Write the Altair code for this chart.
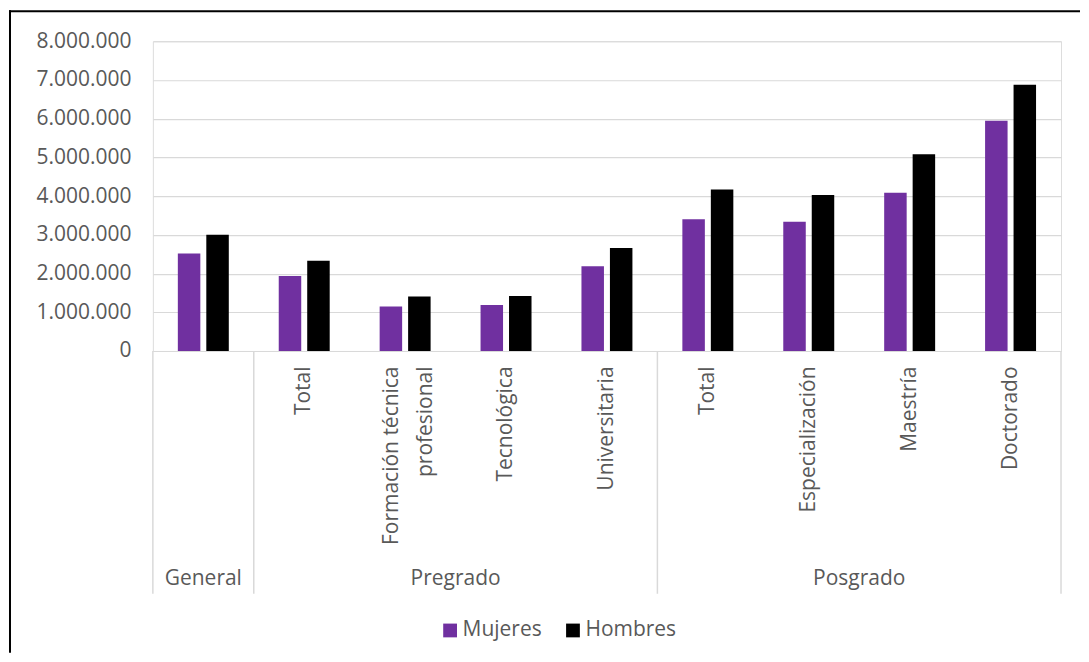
import altair as alt
import pandas as pd

# ---- data ----
groups = ["General", "Pregrado", "Pregrado", "Pregrado", "Pregrado",
          "Posgrado", "Posgrado", "Posgrado", "Posgrado"]
levels = ["", "Total", "Formación técnica;profesional", "Tecnológica", "Universitaria",
          "Total", "Especialización", "Maestría", "Doctorado"]
mujeres = [2520000, 1940000, 1150000, 1190000, 2190000, 3400000, 3340000, 4090000, 5950000]
hombres = [3000000, 2330000, 1410000, 1420000, 2660000, 4170000, 4030000, 5080000, 6880000]
series = ["Mujeres", "Hombres"]
colors = ["#7030a0", "#000000"]
y_ticks = [0, 1000000, 2000000, 3000000, 4000000, 5000000, 6000000, 7000000, 8000000]

group_names = ["General", "Pregrado", "Posgrado"]
group_anchor = ["General|", "Pregrado|Tecnológica", "Posgrado|Maestría"]
group_band = [0.5, 0.0, 0.0]
sep_keys = ["General|", "Pregrado|Total", "Posgrado|Total"]
end_key = ["Posgrado|Doctorado"]

keys = [f"{g}|{l}" for g, l in zip(groups, levels)]
rows = []
for k, m, h in zip(keys, mujeres, hombres):
    rows.append({"key": k, "Sexo": "Mujeres", "valor": m})
    rows.append({"key": k, "Sexo": "Hombres", "valor": h})
df = pd.DataFrame(rows)

grp_df = pd.DataFrame({"grupo": group_names, "key": group_anchor, "bp": group_band})
sep_df = pd.DataFrame({"key": sep_keys})
end_df = pd.DataFrame({"key": end_key})

FONT = "Open Sans"
FS = 21
GRAY = "#595959"
LIGHT = "#d9d9d9"
W, H = 909, 310

x_axis = alt.Axis(
    labelExpr="split(split(datum.value, '|')[1], ';')",
    labelAngle=-90, labelAlign="right", labelBaseline="middle",
    labelPadding=15, labelFontSize=FS, labelFont=FONT, labelColor=GRAY,
    labelLineHeight=34, labelLimit=400, labelOverlap=False,
    labelOffset={"condition": {"test": "indexof(datum.value, ';') >= 0", "value": -13}, "value": 0},
    ticks=False, domain=True, domainColor=LIGHT, domainWidth=1.2, grid=False, title=None,
)
x_scale = alt.Scale(domain=keys, paddingInner=0, paddingOuter=0)


def make_x(bp=None):
    if bp is None:
        return alt.X("key:N", scale=x_scale, axis=x_axis, title=None)
    return alt.X("key:N", scale=x_scale, axis=x_axis, title=None, bandPosition=bp)


bars = alt.Chart(df).mark_bar().encode(
    x=make_x(),
    xOffset=alt.XOffset("Sexo:N", scale=alt.Scale(domain=series, paddingInner=0.21, paddingOuter=0.877)),
    y=alt.Y("valor:Q", scale=alt.Scale(domain=[0, 8000000]),
            axis=alt.Axis(values=y_ticks,
                          labelExpr="replace(format(datum.value, ','), regexp(',', 'g'), '.')",
                          grid=True, gridColor=LIGHT, gridWidth=1.2, domain=False, ticks=False,
                          tickSize=0, labelPadding=22, labelFontSize=FS, labelFont=FONT,
                          labelColor=GRAY, title=None)),
    color=alt.Color("Sexo:N", scale=alt.Scale(domain=series, range=colors),
                    legend=alt.Legend(orient="none", legendX=287, legendY=579, direction="horizontal",
                                      title=None, symbolType="square", symbolSize=190,
                                      symbolStrokeWidth=0, labelFontSize=FS, labelFont=FONT,
                                      labelColor=GRAY, labelOffset=2, columnPadding=20, padding=0)),
)

seps = alt.Chart(sep_df).mark_rule(color=LIGHT, strokeWidth=1.5).encode(
    x=make_x(0), y=alt.value(H), y2=alt.value(H + 243)
)
seps_end = alt.Chart(end_df).mark_rule(color=LIGHT, strokeWidth=1.5).encode(
    x=make_x(1), y=alt.value(H), y2=alt.value(H + 243)
)

lbl_general = alt.Chart(grp_df).transform_filter(alt.datum.bp == 0.5).mark_text(
    font=FONT, fontSize=FS, color=GRAY, align="center", baseline="middle"
).encode(x=make_x(0.5), y=alt.value(H + 228), text="grupo:N")
lbl_groups = alt.Chart(grp_df).transform_filter(alt.datum.bp == 0).mark_text(
    font=FONT, fontSize=FS, color=GRAY, align="center", baseline="middle"
).encode(x=make_x(0), y=alt.value(H + 228), text="grupo:N")

one = alt.Data(values=[{"b": 1}])
border_left = alt.Chart(one).mark_rule(color="#000000", strokeWidth=2).encode(
    x=alt.value(-143), y=alt.value(-31), y2=alt.value(612)
)
border_top = alt.Chart(one).mark_rule(color="#000000", strokeWidth=2).encode(
    x=alt.value(-144), x2=alt.value(928), y=alt.value(-30)
)

chart = alt.layer(
    bars, seps, seps_end, lbl_general, lbl_groups, border_left, border_top
).properties(
    width=W, height=H,
    padding={"left": 0, "top": 1, "right": 0, "bottom": 0},
).configure_view(stroke=None).configure(font=FONT)

chart.save("out.html", embed_options={"renderer": "svg", "actions": False})
